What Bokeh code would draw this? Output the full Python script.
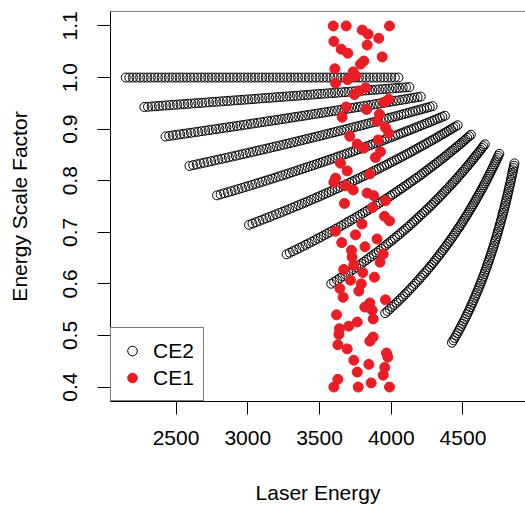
from bokeh.plotting import figure
from bokeh.models import Range1d, FixedTicker, PrintfTickFormatter, Span, Legend, LegendItem
from bokeh.embed import file_html
from bokeh.resources import INLINE

# ---------------- data ----------------
x_ticks = [2500, 3000, 3500, 4000, 4500]
y_ticks = [0.4, 0.5, 0.6, 0.7, 0.8, 0.9, 1.0, 1.1]

# CE2: ten dense chains of open circles (laser energy, energy scale factor)
ce2_x0 = [2150, 2175, 2200, 2225, 2250, 2275, 2300, 2325, 2350, 2375, 2400, 2425, 2450, 2475, 2500, 2525,
          2550, 2575, 2600, 2625, 2650, 2675, 2700, 2725, 2750, 2775, 2800, 2825, 2850, 2875, 2900, 2925,
          2950, 2975, 3000, 3025, 3050, 3075, 3100, 3125, 3150, 3175, 3200, 3225, 3250, 3275, 3300, 3325,
          3350, 3375, 3400, 3425, 3450, 3475, 3500, 3525, 3550, 3575, 3600, 3625, 3650, 3675, 3700, 3725,
          3750, 3775, 3800, 3825, 3850, 3875, 3900, 3925, 3950, 3975, 4000, 4025, 4050]
ce2_y0 = [1.0, 1.0, 1.0, 1.0, 1.0, 1.0, 1.0, 1.0, 1.0, 1.0, 1.0, 1.0, 1.0, 1.0, 1.0, 1.0,
          1.0, 1.0, 1.0, 1.0, 1.0, 1.0, 1.0, 1.0, 1.0, 1.0, 1.0, 1.0, 1.0, 1.0, 1.0, 1.0,
          1.0, 1.0, 1.0, 1.0, 1.0, 1.0, 1.0, 1.0, 1.0, 1.0, 1.0, 1.0, 1.0, 1.0, 1.0, 1.0,
          1.0, 1.0, 1.0, 1.0, 1.0, 1.0, 1.0, 1.0, 1.0, 1.0, 1.0, 1.0, 1.0, 1.0, 1.0, 1.0,
          1.0, 1.0, 1.0, 1.0, 1.0, 1.0, 1.0, 1.0, 1.0, 1.0, 1.0, 1.0, 1.0]
ce2_x1 = [2280, 2305, 2331, 2356, 2381, 2406, 2431, 2456, 2482, 2507, 2532, 2557, 2582, 2607, 2632, 2656,
          2681, 2706, 2731, 2756, 2781, 2805, 2830, 2855, 2879, 2904, 2929, 2953, 2978, 3002, 3027, 3051,
          3076, 3100, 3124, 3149, 3173, 3197, 3222, 3246, 3270, 3294, 3319, 3343, 3367, 3391, 3415, 3439,
          3463, 3487, 3511, 3535, 3559, 3583, 3607, 3631, 3655, 3678, 3702, 3726, 3750, 3773, 3797, 3821,
          3845, 3868, 3892, 3915, 3939, 3962, 3986, 4009, 4033, 4056, 4080, 4103, 4126]
ce2_y1 = [0.9429, 0.9434, 0.9439, 0.9444, 0.9449, 0.9454, 0.9460, 0.9465, 0.9470, 0.9475, 0.9480, 0.9485,
          0.9490, 0.9495, 0.9500, 0.9505, 0.9510, 0.9515, 0.9520, 0.9526, 0.9531, 0.9536, 0.9541, 0.9546,
          0.9551, 0.9556, 0.9561, 0.9566, 0.9571, 0.9576, 0.9581, 0.9586, 0.9592, 0.9597, 0.9602, 0.9607,
          0.9612, 0.9617, 0.9622, 0.9627, 0.9632, 0.9637, 0.9642, 0.9647, 0.9652, 0.9658, 0.9663, 0.9668,
          0.9673, 0.9678, 0.9683, 0.9688, 0.9693, 0.9698, 0.9703, 0.9708, 0.9713, 0.9718, 0.9724, 0.9729,
          0.9734, 0.9739, 0.9744, 0.9749, 0.9754, 0.9759, 0.9764, 0.9769, 0.9774, 0.9779, 0.9784, 0.9790,
          0.9795, 0.9800, 0.9805, 0.9810, 0.9815]
ce2_x2 = [2427, 2453, 2478, 2503, 2529, 2554, 2579, 2604, 2629, 2654, 2679, 2704, 2728, 2753, 2778, 2802,
          2827, 2851, 2876, 2900, 2925, 2949, 2973, 2997, 3021, 3045, 3069, 3093, 3117, 3141, 3165, 3189,
          3212, 3236, 3260, 3283, 3307, 3330, 3354, 3377, 3400, 3423, 3447, 3470, 3493, 3516, 3539, 3562,
          3585, 3607, 3630, 3653, 3676, 3698, 3721, 3743, 3766, 3788, 3811, 3833, 3855, 3878, 3900, 3922,
          3944, 3966, 3988, 4010, 4032, 4054, 4076, 4097, 4119, 4141, 4162, 4184, 4206]
ce2_y2 = [0.8858, 0.8868, 0.8878, 0.8888, 0.8899, 0.8909, 0.8919, 0.8929, 0.8939, 0.8949, 0.8960, 0.8970,
          0.8980, 0.8990, 0.9000, 0.9010, 0.9021, 0.9031, 0.9041, 0.9051, 0.9061, 0.9071, 0.9082, 0.9092,
          0.9102, 0.9112, 0.9122, 0.9132, 0.9142, 0.9153, 0.9163, 0.9173, 0.9183, 0.9193, 0.9203, 0.9214,
          0.9224, 0.9234, 0.9244, 0.9254, 0.9264, 0.9275, 0.9285, 0.9295, 0.9305, 0.9315, 0.9325, 0.9336,
          0.9346, 0.9356, 0.9366, 0.9376, 0.9386, 0.9396, 0.9407, 0.9417, 0.9427, 0.9437, 0.9447, 0.9457,
          0.9468, 0.9478, 0.9488, 0.9498, 0.9508, 0.9518, 0.9529, 0.9539, 0.9549, 0.9559, 0.9569, 0.9579,
          0.9590, 0.9600, 0.9610, 0.9620, 0.9630]
ce2_x3 = [2594, 2620, 2645, 2670, 2695, 2720, 2745, 2770, 2795, 2819, 2844, 2868, 2893, 2917, 2941, 2965,
          2989, 3013, 3037, 3061, 3084, 3108, 3131, 3155, 3178, 3201, 3225, 3248, 3271, 3294, 3317, 3339,
          3362, 3385, 3407, 3430, 3452, 3474, 3497, 3519, 3541, 3563, 3585, 3606, 3628, 3650, 3672, 3693,
          3715, 3736, 3757, 3779, 3800, 3821, 3842, 3863, 3884, 3905, 3926, 3946, 3967, 3987, 4008, 4028,
          4049, 4069, 4089, 4109, 4129, 4149, 4169, 4189, 4209, 4229, 4249, 4268, 4288]
ce2_y3 = [0.8287, 0.8302, 0.8317, 0.8333, 0.8348, 0.8363, 0.8378, 0.8394, 0.8409, 0.8424, 0.8439, 0.8455,
          0.8470, 0.8485, 0.8500, 0.8516, 0.8531, 0.8546, 0.8561, 0.8577, 0.8592, 0.8607, 0.8622, 0.8638,
          0.8653, 0.8668, 0.8683, 0.8698, 0.8714, 0.8729, 0.8744, 0.8759, 0.8775, 0.8790, 0.8805, 0.8820,
          0.8836, 0.8851, 0.8866, 0.8881, 0.8897, 0.8912, 0.8927, 0.8942, 0.8958, 0.8973, 0.8988, 0.9003,
          0.9019, 0.9034, 0.9049, 0.9064, 0.9079, 0.9095, 0.9110, 0.9125, 0.9140, 0.9156, 0.9171, 0.9186,
          0.9201, 0.9217, 0.9232, 0.9247, 0.9262, 0.9278, 0.9293, 0.9308, 0.9323, 0.9339, 0.9354, 0.9369,
          0.9384, 0.9400, 0.9415, 0.9430, 0.9445]
ce2_x4 = [2786, 2811, 2836, 2861, 2886, 2910, 2935, 2959, 2983, 3007, 3031, 3054, 3078, 3101, 3125, 3148,
          3171, 3194, 3217, 3240, 3263, 3285, 3308, 3330, 3352, 3374, 3396, 3418, 3440, 3462, 3483, 3505,
          3526, 3547, 3569, 3590, 3611, 3631, 3652, 3673, 3693, 3714, 3734, 3754, 3775, 3795, 3815, 3835,
          3854, 3874, 3894, 3913, 3933, 3952, 3971, 3990, 4010, 4028, 4047, 4066, 4085, 4104, 4122, 4141,
          4159, 4177, 4196, 4214, 4232, 4250, 4268, 4286, 4303, 4321, 4339, 4356, 4374]
ce2_y4 = [0.7716, 0.7736, 0.7757, 0.7777, 0.7797, 0.7818, 0.7838, 0.7858, 0.7879, 0.7899, 0.7919, 0.7940,
          0.7960, 0.7980, 0.8000, 0.8021, 0.8041, 0.8061, 0.8082, 0.8102, 0.8122, 0.8143, 0.8163, 0.8183,
          0.8204, 0.8224, 0.8244, 0.8265, 0.8285, 0.8305, 0.8326, 0.8346, 0.8366, 0.8387, 0.8407, 0.8427,
          0.8448, 0.8468, 0.8488, 0.8508, 0.8529, 0.8549, 0.8569, 0.8590, 0.8610, 0.8630, 0.8651, 0.8671,
          0.8691, 0.8712, 0.8732, 0.8752, 0.8773, 0.8793, 0.8813, 0.8834, 0.8854, 0.8874, 0.8895, 0.8915,
          0.8935, 0.8956, 0.8976, 0.8996, 0.9016, 0.9037, 0.9057, 0.9077, 0.9098, 0.9118, 0.9138, 0.9159,
          0.9179, 0.9199, 0.9220, 0.9240, 0.9260]
ce2_x5 = [3009, 3033, 3057, 3081, 3105, 3128, 3152, 3175, 3198, 3221, 3244, 3266, 3289, 3311, 3333, 3355,
          3377, 3399, 3420, 3441, 3463, 3484, 3505, 3526, 3546, 3567, 3587, 3608, 3628, 3648, 3668, 3687,
          3707, 3727, 3746, 3765, 3784, 3803, 3822, 3841, 3860, 3878, 3897, 3915, 3933, 3951, 3970, 3987,
          4005, 4023, 4040, 4058, 4075, 4092, 4110, 4127, 4144, 4160, 4177, 4194, 4210, 4227, 4243, 4259,
          4276, 4292, 4308, 4324, 4339, 4355, 4371, 4386, 4402, 4417, 4432, 4447, 4463]
ce2_y5 = [0.7145, 0.7170, 0.7196, 0.7221, 0.7247, 0.7272, 0.7297, 0.7323, 0.7348, 0.7374, 0.7399, 0.7424,
          0.7450, 0.7475, 0.7501, 0.7526, 0.7551, 0.7577, 0.7602, 0.7628, 0.7653, 0.7678, 0.7704, 0.7729,
          0.7755, 0.7780, 0.7805, 0.7831, 0.7856, 0.7882, 0.7907, 0.7932, 0.7958, 0.7983, 0.8009, 0.8034,
          0.8059, 0.8085, 0.8110, 0.8136, 0.8161, 0.8186, 0.8212, 0.8237, 0.8263, 0.8288, 0.8313, 0.8339,
          0.8364, 0.8390, 0.8415, 0.8440, 0.8466, 0.8491, 0.8517, 0.8542, 0.8567, 0.8593, 0.8618, 0.8644,
          0.8669, 0.8694, 0.8720, 0.8745, 0.8771, 0.8796, 0.8821, 0.8847, 0.8872, 0.8898, 0.8923, 0.8948,
          0.8974, 0.8999, 0.9025, 0.9050, 0.9075]
ce2_x6 = [3271, 3293, 3316, 3338, 3360, 3382, 3404, 3425, 3447, 3468, 3489, 3510, 3530, 3551, 3571, 3591,
          3611, 3631, 3650, 3670, 3689, 3708, 3727, 3746, 3764, 3783, 3801, 3819, 3837, 3855, 3873, 3890,
          3908, 3925, 3942, 3959, 3976, 3993, 4009, 4026, 4042, 4058, 4074, 4090, 4106, 4122, 4137, 4153,
          4168, 4183, 4199, 4214, 4229, 4243, 4258, 4272, 4287, 4301, 4316, 4330, 4344, 4358, 4372, 4385,
          4399, 4412, 4426, 4439, 4453, 4466, 4479, 4492, 4505, 4517, 4530, 4543, 4555]
ce2_y6 = [0.6574, 0.6604, 0.6635, 0.6665, 0.6696, 0.6726, 0.6757, 0.6787, 0.6818, 0.6848, 0.6879, 0.6909,
          0.6940, 0.6970, 0.7001, 0.7031, 0.7062, 0.7092, 0.7123, 0.7153, 0.7184, 0.7214, 0.7245, 0.7275,
          0.7306, 0.7336, 0.7366, 0.7397, 0.7427, 0.7458, 0.7488, 0.7519, 0.7549, 0.7580, 0.7610, 0.7641,
          0.7671, 0.7702, 0.7732, 0.7763, 0.7793, 0.7824, 0.7854, 0.7885, 0.7915, 0.7946, 0.7976, 0.8007,
          0.8037, 0.8068, 0.8098, 0.8129, 0.8159, 0.8189, 0.8220, 0.8250, 0.8281, 0.8311, 0.8342, 0.8372,
          0.8403, 0.8433, 0.8464, 0.8494, 0.8525, 0.8555, 0.8586, 0.8616, 0.8647, 0.8677, 0.8708, 0.8738,
          0.8769, 0.8799, 0.8830, 0.8860, 0.8891]
ce2_x7 = [3582, 3602, 3622, 3642, 3661, 3681, 3700, 3719, 3738, 3756, 3774, 3792, 3810, 3828, 3846, 3863,
          3880, 3897, 3914, 3930, 3947, 3963, 3979, 3995, 4011, 4026, 4042, 4057, 4072, 4087, 4102, 4117,
          4131, 4145, 4160, 4174, 4188, 4201, 4215, 4229, 4242, 4255, 4269, 4282, 4295, 4307, 4320, 4333,
          4345, 4357, 4370, 4382, 4394, 4406, 4417, 4429, 4441, 4452, 4464, 4475, 4486, 4497, 4508, 4519,
          4530, 4540, 4551, 4561, 4572, 4582, 4592, 4603, 4613, 4623, 4633, 4642, 4652]
ce2_y7 = [0.6003, 0.6039, 0.6074, 0.6110, 0.6145, 0.6181, 0.6216, 0.6252, 0.6287, 0.6323, 0.6359, 0.6394,
          0.6430, 0.6465, 0.6501, 0.6536, 0.6572, 0.6607, 0.6643, 0.6679, 0.6714, 0.6750, 0.6785, 0.6821,
          0.6856, 0.6892, 0.6928, 0.6963, 0.6999, 0.7034, 0.7070, 0.7105, 0.7141, 0.7176, 0.7212, 0.7248,
          0.7283, 0.7319, 0.7354, 0.7390, 0.7425, 0.7461, 0.7497, 0.7532, 0.7568, 0.7603, 0.7639, 0.7674,
          0.7710, 0.7745, 0.7781, 0.7817, 0.7852, 0.7888, 0.7923, 0.7959, 0.7994, 0.8030, 0.8066, 0.8101,
          0.8137, 0.8172, 0.8208, 0.8243, 0.8279, 0.8314, 0.8350, 0.8386, 0.8421, 0.8457, 0.8492, 0.8528,
          0.8563, 0.8599, 0.8634, 0.8670, 0.8706]
ce2_x8 = [3958, 3974, 3990, 4006, 4022, 4037, 4052, 4067, 4082, 4096, 4111, 4125, 4139, 4152, 4166, 4179,
          4193, 4205, 4218, 4231, 4244, 4256, 4268, 4280, 4292, 4304, 4315, 4327, 4338, 4349, 4360, 4371,
          4382, 4392, 4403, 4413, 4424, 4434, 4444, 4453, 4463, 4473, 4483, 4492, 4501, 4510, 4520, 4529,
          4538, 4546, 4555, 4564, 4572, 4581, 4589, 4597, 4606, 4614, 4622, 4630, 4638, 4645, 4653, 4661,
          4668, 4676, 4683, 4690, 4698, 4705, 4712, 4719, 4726, 4733, 4740, 4746, 4753]
ce2_y8 = [0.5432, 0.5473, 0.5513, 0.5554, 0.5595, 0.5635, 0.5676, 0.5716, 0.5757, 0.5798, 0.5838, 0.5879,
          0.5920, 0.5960, 0.6001, 0.6042, 0.6082, 0.6123, 0.6164, 0.6204, 0.6245, 0.6285, 0.6326, 0.6367,
          0.6407, 0.6448, 0.6489, 0.6529, 0.6570, 0.6611, 0.6651, 0.6692, 0.6732, 0.6773, 0.6814, 0.6854,
          0.6895, 0.6936, 0.6976, 0.7017, 0.7058, 0.7098, 0.7139, 0.7180, 0.7220, 0.7261, 0.7301, 0.7342,
          0.7383, 0.7423, 0.7464, 0.7505, 0.7545, 0.7586, 0.7627, 0.7667, 0.7708, 0.7749, 0.7789, 0.7830,
          0.7870, 0.7911, 0.7952, 0.7992, 0.8033, 0.8074, 0.8114, 0.8155, 0.8196, 0.8236, 0.8277, 0.8318,
          0.8358, 0.8399, 0.8439, 0.8480, 0.8521]
ce2_x9 = [4423, 4433, 4442, 4452, 4461, 4470, 4479, 4487, 4496, 4504, 4513, 4521, 4529, 4537, 4545, 4552,
          4560, 4567, 4574, 4581, 4588, 4595, 4602, 4609, 4615, 4622, 4628, 4635, 4641, 4647, 4653, 4659,
          4665, 4670, 4676, 4682, 4687, 4693, 4698, 4703, 4709, 4714, 4719, 4724, 4729, 4734, 4739, 4743,
          4748, 4753, 4757, 4762, 4766, 4771, 4775, 4779, 4784, 4788, 4792, 4796, 4800, 4804, 4808, 4812,
          4816, 4819, 4823, 4827, 4831, 4834, 4838, 4841, 4845, 4848, 4852, 4855, 4859]
ce2_y9 = [0.4861, 0.4907, 0.4952, 0.4998, 0.5044, 0.5090, 0.5135, 0.5181, 0.5227, 0.5272, 0.5318, 0.5364,
          0.5410, 0.5455, 0.5501, 0.5547, 0.5593, 0.5638, 0.5684, 0.5730, 0.5775, 0.5821, 0.5867, 0.5913,
          0.5958, 0.6004, 0.6050, 0.6095, 0.6141, 0.6187, 0.6233, 0.6278, 0.6324, 0.6370, 0.6415, 0.6461,
          0.6507, 0.6553, 0.6598, 0.6644, 0.6690, 0.6736, 0.6781, 0.6827, 0.6873, 0.6918, 0.6964, 0.7010,
          0.7056, 0.7101, 0.7147, 0.7193, 0.7238, 0.7284, 0.7330, 0.7376, 0.7421, 0.7467, 0.7513, 0.7558,
          0.7604, 0.7650, 0.7696, 0.7741, 0.7787, 0.7833, 0.7879, 0.7924, 0.7970, 0.8016, 0.8061, 0.8107,
          0.8153, 0.8199, 0.8244, 0.8290, 0.8336]

# CE1: filled red points
ce1_x = [3596, 3686, 3798, 3839, 3988, 3913, 3600, 3832, 3651, 3697, 3937, 3809, 3786, 3607, 3735, 3751,
         3697, 3612, 3821, 3774, 3744, 3983, 3948, 3686, 3828, 3658, 3918, 3902, 3960, 3983, 3711, 3909,
         3763, 3809, 3925, 3890, 3646, 3693, 3851, 3612, 3600, 3681, 3735, 3832, 3878, 3960, 3674, 3869,
         3953, 3988, 3796, 3612, 3751, 3901, 3655, 3817, 3723, 3944, 3727, 3922, 3739, 3669, 3802, 3883,
         3716, 3791, 3642, 3774, 3665, 3960, 3851, 3816, 3867, 3619, 3874, 3763, 3704, 3639, 3635, 3874,
         3851, 3628, 3693, 3967, 3976, 3739, 3844, 3955, 3763, 3944, 3628, 3600, 3770, 3860, 3988]
ce1_y = [1.100, 1.100, 1.092, 1.084, 1.100, 1.076, 1.070, 1.063, 1.055, 1.047, 1.040, 1.032, 1.026, 1.017, 1.011, 1.003,
         0.996, 0.989, 0.980, 0.974, 0.967, 0.958, 0.952, 0.943, 0.938, 0.923, 0.929, 0.915, 0.903, 0.892, 0.886, 0.879,
         0.871, 0.863, 0.856, 0.845, 0.834, 0.819, 0.813, 0.805, 0.797, 0.790, 0.782, 0.776, 0.771, 0.761, 0.756, 0.748,
         0.731, 0.722, 0.716, 0.702, 0.695, 0.687, 0.680, 0.672, 0.665, 0.658, 0.652, 0.642, 0.636, 0.628, 0.622, 0.613,
         0.607, 0.600, 0.591, 0.586, 0.574, 0.569, 0.563, 0.555, 0.549, 0.540, 0.532, 0.526, 0.518, 0.513, 0.502, 0.497,
         0.489, 0.482, 0.474, 0.466, 0.458, 0.452, 0.444, 0.438, 0.429, 0.423, 0.415, 0.400, 0.400, 0.408, 0.400]

# ---------------- styling ----------------
FONT = "Liberation Sans"
FS = "21px"
RED = "#EA1D25"

ce2_pairs = [(ce2_x0, ce2_y0), (ce2_x1, ce2_y1), (ce2_x2, ce2_y2), (ce2_x3, ce2_y3), (ce2_x4, ce2_y4),
             (ce2_x5, ce2_y5), (ce2_x6, ce2_y6), (ce2_x7, ce2_y7), (ce2_x8, ce2_y8), (ce2_x9, ce2_y9)]
ce2_x, ce2_y = [], []
for xs, ys in ce2_pairs:
    n = min(len(xs), len(ys))
    ce2_x += xs[:n]
    ce2_y += ys[:n]

p = figure(width=525, height=506, output_backend="svg", toolbar_location=None,
           x_range=Range1d(2043.5, 4935.7), y_range=Range1d(0.372, 1.128),
           min_border_left=110, min_border_right=0, min_border_top=11, min_border_bottom=105)
p.xgrid.visible = False
p.ygrid.visible = False
p.outline_line_color = None
p.background_fill_color = "white"
p.border_fill_color = "white"

r2 = p.scatter(x=ce2_x, y=ce2_y, marker="circle", size=9, fill_color=None,
               line_color="black", line_width=1)
r1 = p.scatter(x=ce1_x, y=ce1_y, marker="circle", size=10, fill_color=RED,
               line_color=RED, line_width=1)

for ax in (p.xaxis[0], p.yaxis[0]):
    ax.major_tick_out = 13
    ax.major_tick_in = 0
    ax.minor_tick_out = 0
    ax.minor_tick_in = 0
    ax.axis_line_color = "black"
    ax.axis_line_width = 1
    ax.major_tick_line_color = "black"
    ax.major_tick_line_width = 1
    ax.major_label_text_font = FONT
    ax.major_label_text_font_size = FS
    ax.major_label_text_color = "black"
    ax.axis_label_text_font = FONT
    ax.axis_label_text_font_size = FS
    ax.axis_label_text_font_style = "normal"
    ax.axis_label_text_color = "black"

p.xaxis[0].ticker = FixedTicker(ticks=x_ticks)
p.xaxis[0].formatter = PrintfTickFormatter(format="%d")
p.xaxis[0].axis_label = "Laser Energy"
p.xaxis[0].major_label_standoff = 16
p.xaxis[0].axis_label_standoff = 33

p.yaxis[0].ticker = FixedTicker(ticks=y_ticks)
p.yaxis[0].formatter = PrintfTickFormatter(format="%.1f")
p.yaxis[0].axis_label = "Energy Scale Factor"
p.yaxis[0].major_label_orientation = "vertical"
p.yaxis[0].major_label_standoff = 20
p.yaxis[0].axis_label_standoff = 30

p.add_layout(Span(location=1.128, dimension="width", line_color="black", line_width=1))

legend = Legend(items=[LegendItem(label="CE2", renderers=[r2]),
                       LegendItem(label="CE1", renderers=[r1])],
                location="bottom_left", margin=0, padding=9, spacing=0,
                glyph_width=24, glyph_height=27, label_standoff=9,
                label_text_font=FONT, label_text_font_size=FS, label_text_color="black",
                border_line_color="black", border_line_width=1,
                background_fill_color="white", background_fill_alpha=1.0)
p.add_layout(legend)

with open("out.html", "w") as f:
    f.write(file_html(p, INLINE, title="Energy Scale Factor"))
